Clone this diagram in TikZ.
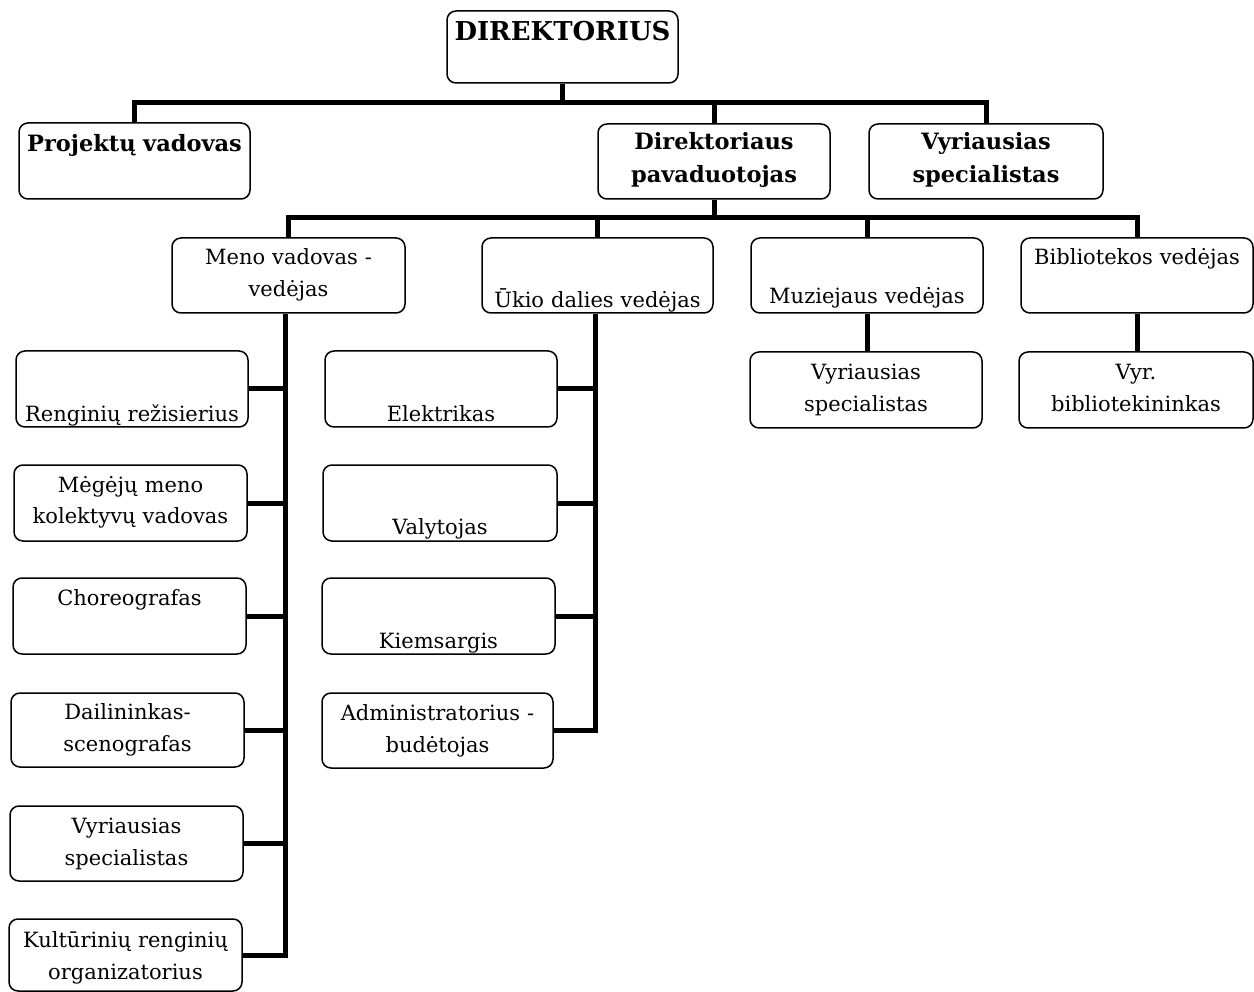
\documentclass[tikz,border=0pt]{standalone}
\usepackage{fontspec}
\setmainfont{DejaVu Serif}
\usetikzlibrary{backgrounds}
\begin{document}
\begin{tikzpicture}[x=1pt,y=-1pt,
  card/.style={draw, rounded corners=9pt, line width=1.5pt, inner sep=0pt, fill=white,
    align=center, font=\fontsize{21}{32}\selectfont},
  head/.style={font=\bfseries\fontsize{22.5}{33}\selectfont},
  tb/.style n args={3}{text width=#1pt, text height=#2pt, text depth=#3pt},
  conn/.style={line width=5pt, line join=miter}]
\useasboundingbox (0,0) rectangle (1254,992);
% level 0-1
\node[card, tb={231}{30}{42}, font=\bfseries\fontsize{26}{30}\selectfont] (dir) at (562.5,47) {DIREKTORIUS};
\node[card, head, tb={231}{29}{47}] (proj) at (134.5,161) {Projektų vadovas};
\node[card, head, tb={232}{26}{49}] (pav) at (714,161.5) {Direktoriaus\\pavaduotojas};
\node[card, head, tb={234}{26}{49}] (vyr1) at (986,161.5) {Vyriausias\\specialistas};
% level 2
\node[card, tb={233}{27}{48}] (meno) at (288.5,275.5) {Meno vadovas -\\vedėjas};
\node[card, tb={231}{70}{5}] (ukio) at (597.5,275.5) {Ūkio dalies vedėjas};
\node[card, tb={232}{66}{9}] (muz) at (867,275.5) {Muziejaus vedėjas};
\node[card, tb={232}{27}{48}] (bib) at (1137,275.5) {Bibliotekos vedėjas};
\node[card, tb={232}{28}{48}] (muzv) at (866,390) {Vyriausias\\specialistas};
\node[card, tb={234}{28}{48}] (bibv) at (1136,390) {Vyr.\\bibliotekininkas};
% left column
\node[card, tb={232}{70}{6}] (reng) at (132,389) {Renginių režisierius};
\node[card, tb={233}{27}{49}] (meg) at (130.5,503) {Mėgėjų meno\\kolektyvų vadovas};
\node[card, tb={233}{27}{49}] (chor) at (129.5,616) {Choreografas};
\node[card, tb={233}{26}{48}] (dail) at (127.5,730) {Dailininkas-\\scenografas};
\node[card, tb={233}{27}{48}] (vyr2) at (126.5,843.5) {Vyriausias\\specialistas};
\node[card, tb={233}{28}{44}] (kult) at (125.5,955) {Kultūrinių renginių\\organizatorius};
% right column
\node[card, tb={232}{71}{5}] (elek) at (441,389) {Elektrikas};
\node[card, tb={234}{69}{7}] (valy) at (440,503) {Valytojas};
\node[card, tb={233}{70}{6}] (kiem) at (438.5,616) {Kiemsargis};
\node[card, tb={231}{27}{48}] (adm) at (437.5,730.5) {Administratorius -\\budėtojas};
% connectors
\coordinate (b1) at (0,103);
\coordinate (b2) at (0,218);
\coordinate (mt) at (285,0);
\coordinate (ut) at (595,0);
\begin{pgfonlayer}{background}
\fill[white] (0,0) rectangle (1254,992);
\draw[conn] (dir.south) -- (dir.south |- b1);
\draw[conn] (proj.north) -- (proj.north |- b1) -- (vyr1.north |- b1) -- (vyr1.north);
\draw[conn] (pav.north) -- (pav.north |- b1);
\draw[conn] (pav.south) -- (pav.south |- b2);
\draw[conn] (meno.north) -- (meno.north |- b2) -- (bib.north |- b2) -- (bib.north);
\draw[conn] (ukio.north) -- (ukio.north |- b2);
\draw[conn] (muz.north) -- (muz.north |- b2);
\draw[conn] (muz.south) -- (muz.south |- muzv.north);
\draw[conn] (bib.south) -- (bib.south |- bibv.north);
\draw[conn] (meno.south -| mt) -- (kult.east -| mt) -- (kult.east);
\foreach \n in {reng,meg,chor,dail,vyr2} \draw[conn] (\n.east) -- (\n.east -| mt);
\draw[conn] (ukio.south -| ut) -- (adm.east -| ut) -- (adm.east);
\foreach \n in {elek,valy,kiem} \draw[conn] (\n.east) -- (\n.east -| ut);
\end{pgfonlayer}
\end{tikzpicture}
\end{document}
